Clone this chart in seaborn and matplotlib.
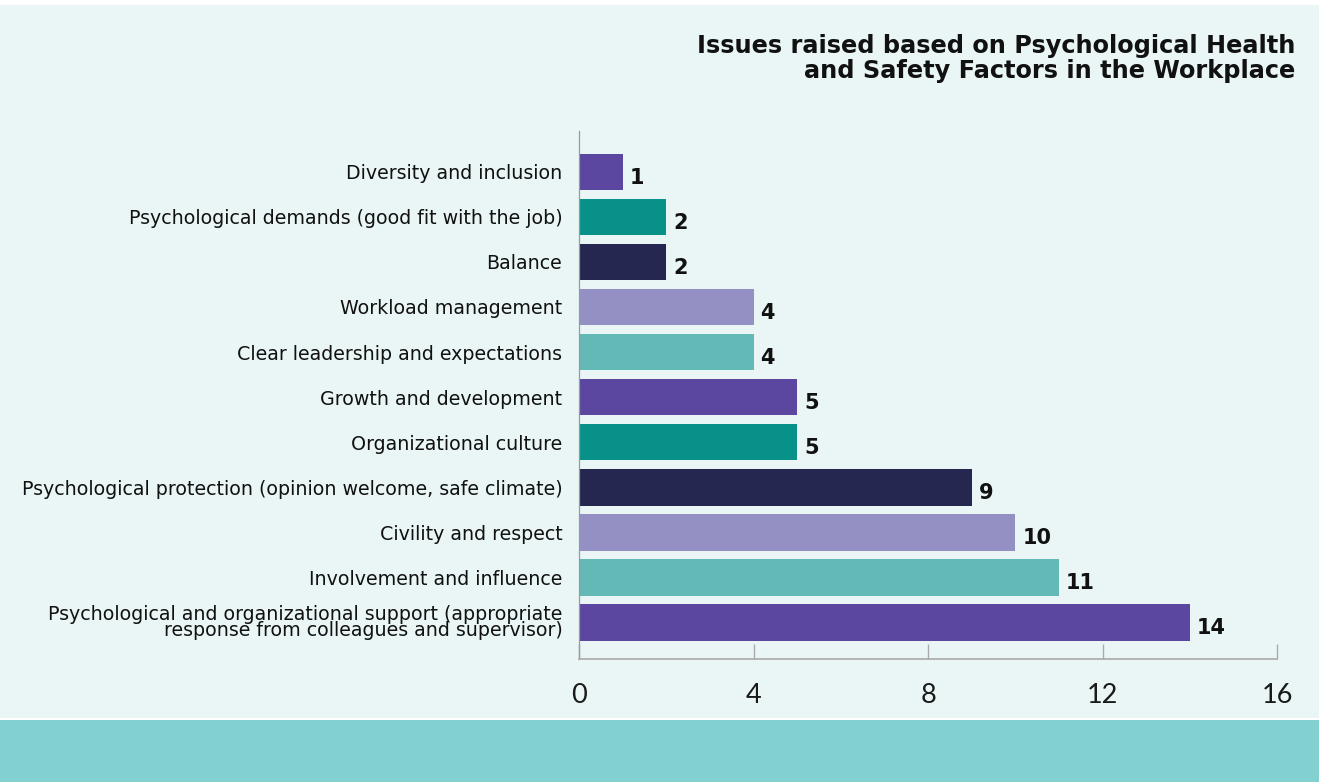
import matplotlib
matplotlib.use("Agg")
import matplotlib.pyplot as plt
import matplotlib.transforms as mtransforms
import seaborn as sns
import pandas as pd
from matplotlib.patches import Rectangle

categories = [
    "Diversity and inclusion",
    "Psychological demands (good fit with the job)",
    "Balance",
    "Workload management",
    "Clear leadership and expectations",
    "Growth and development",
    "Organizational culture",
    "Psychological protection (opinion welcome, safe climate)",
    "Civility and respect",
    "Involvement and influence",
    "Psychological and organizational support (appropriate\nresponse from colleagues and supervisor)",
]
values = [1, 2, 2, 4, 4, 5, 5, 9, 10, 11, 14]
colors = ["#5B47A0", "#079189", "#252750", "#9490C4", "#62B9B6",
          "#5B47A0", "#079189", "#252750", "#9490C4", "#62B9B6", "#5B47A0"]
xticks = [0, 4, 8, 12, 16]
title = "Issues raised based on Psychological Health\nand Safety Factors in the Workplace"

sns.set_theme(style="white")
plt.rcParams['font.family'] = ['DejaVu Sans']

W, H = 1319, 782
fig = plt.figure(figsize=(W / 100, H / 100), dpi=100)
fig.patch.set_facecolor("white")
fig.patches.append(Rectangle((0, 1 - 718 / H), 1, (718 - 5) / H, transform=fig.transFigure,
                             facecolor="#EAF6F6", edgecolor="none", zorder=-5))
fig.patches.append(Rectangle((0, 0), 1, (H - 720) / H, transform=fig.transFigure,
                             facecolor="#82D0D0", edgecolor="none", zorder=-5))

ax = fig.add_axes([579 / W, 1 - 659 / H, (1277 - 579) / W, (659 - 131) / H])
ax.set_facecolor("none")

df = pd.DataFrame({"category": categories, "value": values})
sns.barplot(data=df, y="category", x="value", hue="category", palette=colors,
            orient="h", width=0.82, legend=False, ax=ax, saturation=1, linewidth=0)

ax.set_xlim(0, 16)
ax.set_ylim(10.82, -0.91)
ax.set_xticks(xticks)
ax.set_xticklabels([str(t) for t in xticks], fontsize=19.5, fontweight="normal",
                   color="#1a1a1a", family=["Lato"])
ax.set_xlabel("")
ax.set_ylabel("")
ax.tick_params(axis="x", bottom=True, direction="in", length=10.5, width=1.0,
               color="#AAAAAA", pad=17)
ax.tick_params(axis="y", left=False, length=0, pad=12)
for lbl in ax.get_yticklabels():
    lbl.set_fontsize(13.7)
    lbl.set_color("#111111")
    lbl.set_linespacing(0.78)

for s in ["top", "right"]:
    ax.spines[s].set_visible(False)
ax.spines["left"].set_color("#999999")
ax.spines["left"].set_linewidth(0.9)
ax.spines["bottom"].set_color("#AAAAAA")
ax.spines["bottom"].set_linewidth(1.2)

for i, v in enumerate(values):
    ax.annotate(str(v), xy=(v, i), xytext=(5, -4), textcoords="offset points",
                ha="left", va="center", fontsize=15, fontweight="bold", color="#111111")

fig.text(1295 / W, 1 - 34 / H, title, ha="right", va="top", fontsize=17.3,
         fontweight="bold", color="#111111", linespacing=1.05)

fig.savefig("out.png", dpi=100, facecolor=fig.get_facecolor())
